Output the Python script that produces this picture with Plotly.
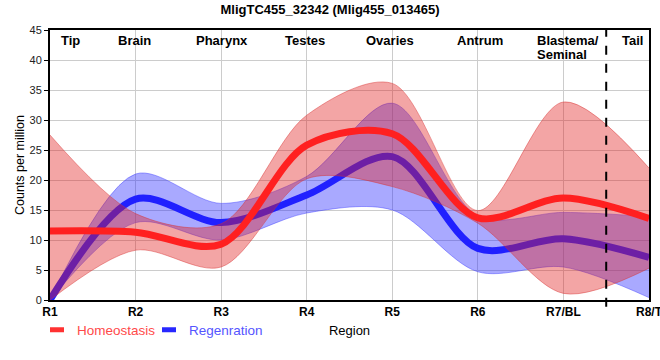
import plotly.graph_objects as go

# ---- data ----
regions = ["R1", "R2", "R3", "R4", "R5", "R6", "R7/BL", "R8/T"]
region_pos = [1, 2, 3, 4, 5, 6, 7, 8]

homeo_mean = [11.5, 11.3, 9.3, 25.8, 27.7, 13.7, 17.0, 13.6]
homeo_upper = [27.5, 14.4, 12.7, 30.8, 36.1, 14.9, 33.0, 22.0]
homeo_lower = [0.0, 8.3, 5.5, 20.2, 18.9, 12.8, 1.1, 5.3]

regen_mean = [0.0, 16.8, 12.9, 17.5, 23.9, 8.6, 10.2, 7.1]
regen_upper = [0.0, 21.0, 16.1, 20.6, 32.8, 14.0, 14.6, 13.9]
regen_lower = [0.0, 12.9, 10.0, 14.5, 15.0, 4.7, 5.5, 0.4]

section_labels = ["Tip", "Brain", "Pharynx", "Testes", "Ovaries", "Antrum", "Blastema/<br>Seminal", "Tail"]
section_x = [1.105, 1.769, 2.68, 3.723, 4.67, 5.73, 6.664, 7.66]
divider_x = 7.5

FONT = "Liberation Sans, Arial, sans-serif"
RED_LINE = "rgb(255,32,32)"
BLUE_LINE = "rgb(32,32,255)"
RED_FILL = "rgba(225,30,30,0.40)"
BLUE_FILL = "rgba(40,40,255,0.40)"
SMOOTH = 0.9

fig = go.Figure()

def band(lower, upper, mean, fill, edge, line_color):
    fig.add_trace(go.Scatter(x=region_pos, y=lower, mode="lines",
                             line=dict(color=edge, width=1, shape="spline", smoothing=SMOOTH),
                             showlegend=False, hoverinfo="skip"))
    fig.add_trace(go.Scatter(x=region_pos, y=upper, mode="lines", fill="tonexty",
                             fillcolor=fill,
                             line=dict(color=edge, width=1, shape="spline", smoothing=SMOOTH),
                             showlegend=False, hoverinfo="skip"))
    fig.add_trace(go.Scatter(x=region_pos, y=mean, mode="lines",
                             line=dict(color=line_color, width=7, shape="spline", smoothing=SMOOTH),
                             showlegend=False))

band(regen_lower, regen_upper, regen_mean, BLUE_FILL, "rgba(60,60,255,0.45)", BLUE_LINE)
band(homeo_lower, homeo_upper, homeo_mean, RED_FILL, "rgba(215,50,50,0.45)", RED_LINE)

# legend entries
fig.add_trace(go.Scatter(x=[None], y=[None], mode="markers", legend="legend",
                         name='<span style="color:#ff4a4a">Homeostasis</span>',
                         marker=dict(symbol="line-ew-open", size=10, color="rgb(255,50,50)",
                                     line=dict(color="rgb(255,50,50)", width=6))))
fig.add_trace(go.Scatter(x=[None], y=[None], mode="markers", legend="legend2",
                         name='<span style="color:#5555ff">Regenration</span>',
                         marker=dict(symbol="line-ew-open", size=10, color="rgb(40,40,255)",
                                     line=dict(color="rgb(40,40,255)", width=6))))

# section labels
for lab, xp in zip(section_labels, section_x):
    lines = lab.split("<br>")
    for i, ln in enumerate(lines):
        fig.add_annotation(x=xp, y=1, xref="x", yref="paper", text=ln, showarrow=False,
                           xanchor="left", yanchor="top", yshift=-1 - 14 * i,
                           font=dict(family=FONT, size=13, color="black", weight="bold"))

fig.add_shape(type="line", x0=divider_x, x1=divider_x, xref="x", yref="paper",
              y0=-0.025, y1=1, line=dict(color="black", width=2, dash="dash"))

fig.update_layout(
    width=660, height=360,
    margin=dict(l=50, r=11, t=30, b=60),
    paper_bgcolor="white", plot_bgcolor="white",
    font=dict(family=FONT, size=12, color="black"),
    title=dict(text="<b>MligTC455_32342 (Mlig455_013465)</b>", x=0.5, xanchor="center",
               y=1 - 9 / 360, yanchor="middle", font=dict(family=FONT, size=13, color="black")),
    legend=dict(orientation="h", x=(37 - 50) / 599, xanchor="left", y=-0.111, yanchor="middle",
                font=dict(family=FONT, size=13.5), bgcolor="rgba(0,0,0,0)"),
    legend2=dict(orientation="h", x=(149 - 50) / 599, xanchor="left", y=-0.111, yanchor="middle",
                 font=dict(family=FONT, size=13.5), bgcolor="rgba(0,0,0,0)"),
    xaxis=dict(range=[1, 8], tickvals=region_pos, ticktext=regions, showgrid=True,
               gridcolor="#cccccc", gridwidth=1, zeroline=False, showline=True,
               linecolor="black", linewidth=2, mirror=True, ticks="",
               ticklabeloverflow="allow",
               tickfont=dict(family=FONT, size=12, color="black", weight="bold"),
               title=dict(text="Region", font=dict(family=FONT, size=13), standoff=7),
               automargin=False),
    yaxis=dict(range=[0, 45], tickvals=list(range(0, 50, 5)), showgrid=True,
               gridcolor="#cccccc", gridwidth=1, zeroline=False, showline=True,
               linecolor="black", linewidth=2, mirror=True, ticks="outside", ticklen=4,
               tickcolor="black", tickfont=dict(family=FONT, size=11, color="#222"),
               title=dict(text="Counts per million", font=dict(family=FONT, size=12.5), standoff=2),
               automargin=False),
)

fig.write_html("out.html", config={"displayModeBar": False},
               post_script="document.body.style.margin='0px';")
